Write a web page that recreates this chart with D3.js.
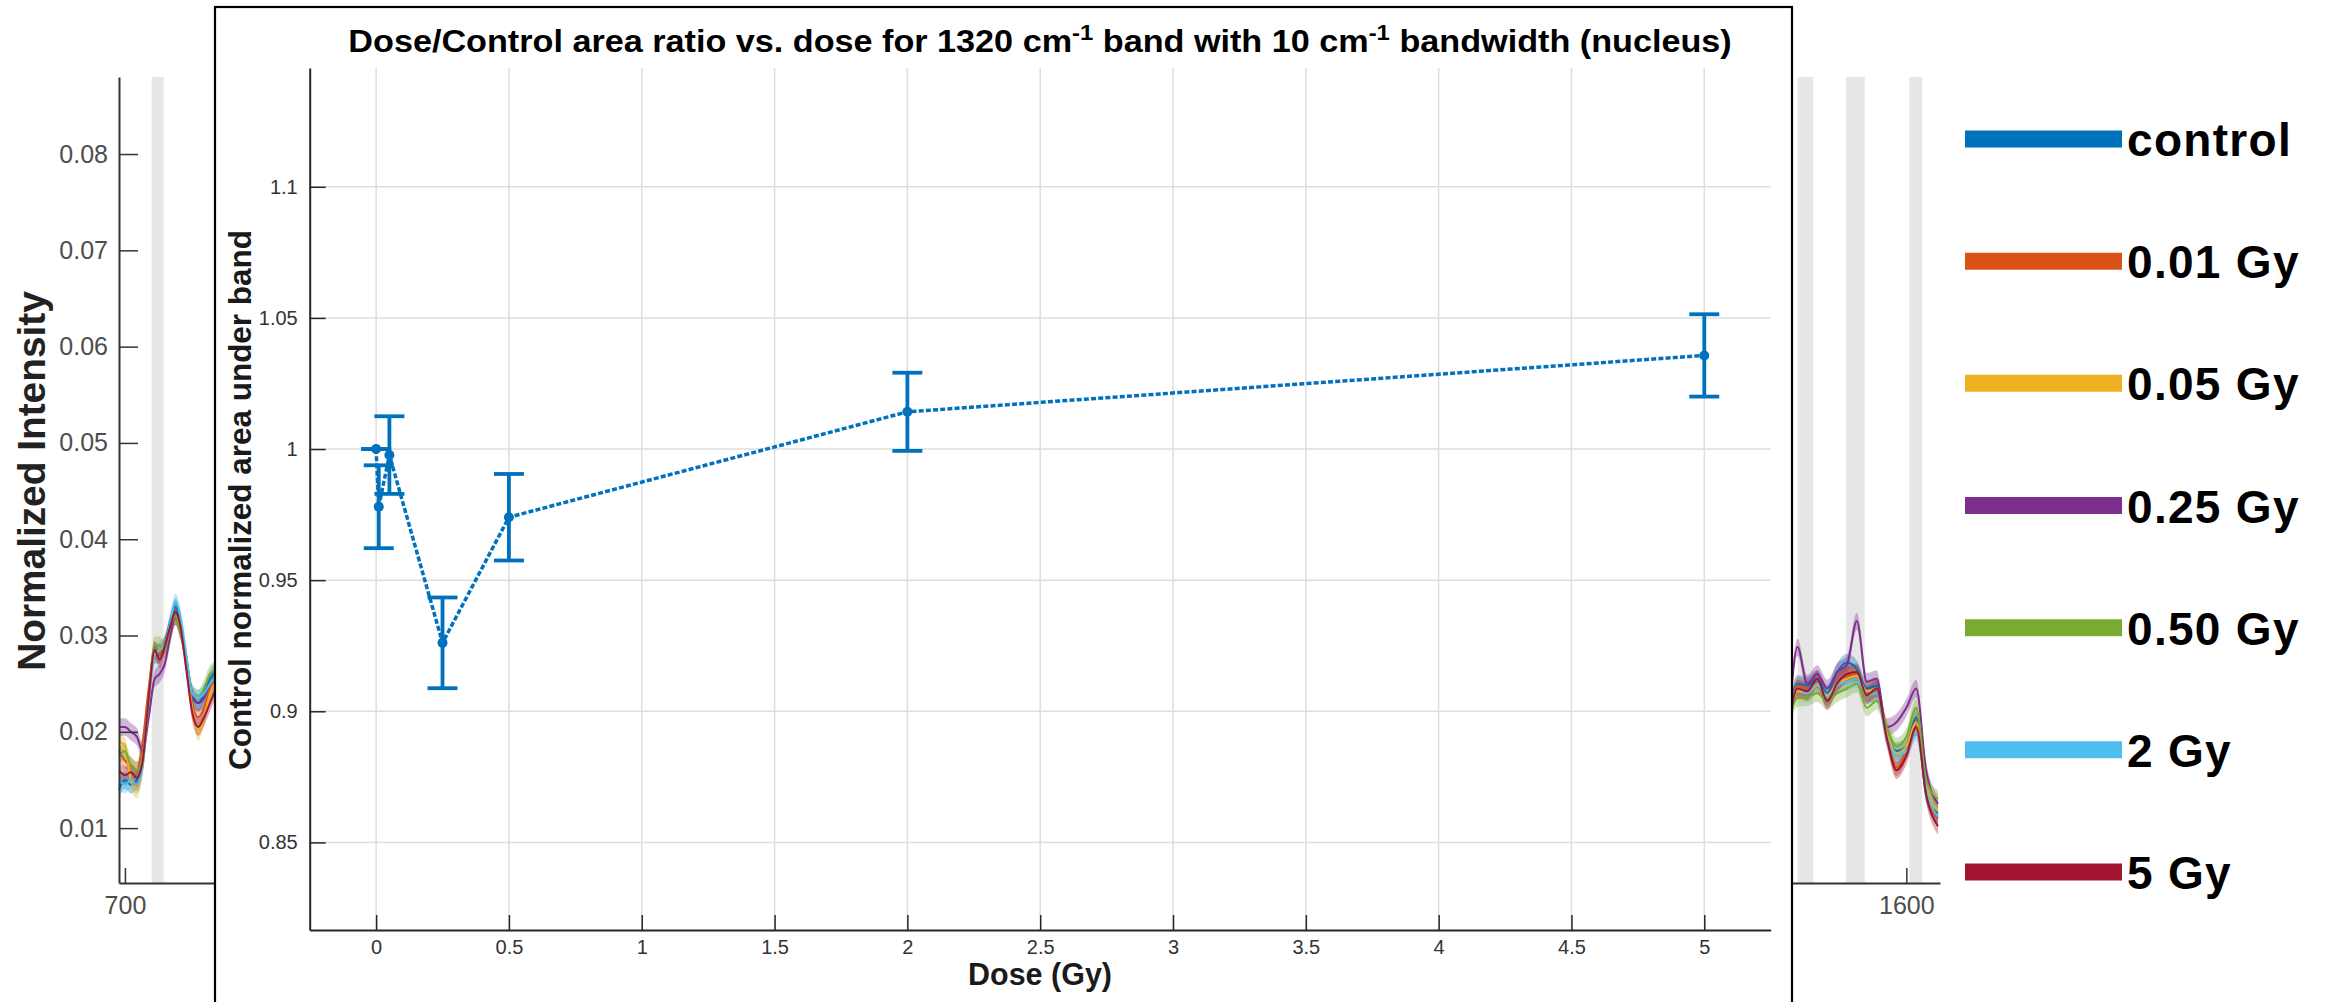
<!DOCTYPE html>
<html>
<head>
<meta charset="utf-8">
<script src="https://cdn.jsdelivr.net/npm/d3@7"></script>
<style>
  html, body { margin: 0; padding: 0; background: #fff; }
  svg { display: block; }
  text { font-family: "Liberation Sans", Arial, Helvetica, sans-serif; }
</style>
</head>
<body>
<svg id="fig" width="2329" height="1002"></svg>
<script>
// ---- dose-response data (ratio of band area to control, 1320 cm-1 band) ----
const doses      = [0, 0.01, 0.05, 0.25, 0.5, 2, 5];
const areaRatio  = [1.0, 0.978, 0.9977, 0.9261, 0.9740, 1.0142, 1.0357];
const ratioError = [0.0, 0.0158, 0.0148, 0.0173, 0.0165, 0.0149, 0.0157];
const doseTicks  = [0, 0.5, 1, 1.5, 2, 2.5, 3, 3.5, 4, 4.5, 5];
const ratioTicks = [0.85, 0.9, 0.95, 1, 1.05, 1.1];

// ---- background spectra (mean normalized intensity per group) ----
const groupNames  = ["control", "0.01 Gy", "0.05 Gy", "0.25 Gy", "0.50 Gy", "2 Gy", "5 Gy"];
const groupColors = ["#0072BD", "#D95319", "#EDB120", "#7E2F8E", "#77AC30", "#4DBEEE", "#A2142F"];

const waveLeft = [697, 700, 703, 706, 709, 712, 715, 717.5, 720, 723, 725.5, 728, 731, 734, 737, 740, 743, 747];
const specLeft = [
  [0.0140, 0.0150, 0.0145, 0.0150, 0.0170, 0.0235, 0.0280, 0.0280, 0.0290, 0.0315, 0.0330, 0.0315, 0.0270, 0.0235, 0.0230, 0.0240, 0.0255, 0.0265],
  [0.0180, 0.0170, 0.0165, 0.0160, 0.0190, 0.0245, 0.0285, 0.0280, 0.0290, 0.0310, 0.0320, 0.0305, 0.0275, 0.0230, 0.0215, 0.0225, 0.0245, 0.0260],
  [0.0190, 0.0185, 0.0150, 0.0140, 0.0165, 0.0230, 0.0280, 0.0285, 0.0290, 0.0305, 0.0320, 0.0310, 0.0270, 0.0225, 0.0200, 0.0215, 0.0240, 0.0255],
  [0.0205, 0.0205, 0.0200, 0.0195, 0.0180, 0.0215, 0.0255, 0.0260, 0.0270, 0.0300, 0.0320, 0.0305, 0.0275, 0.0240, 0.0230, 0.0235, 0.0250, 0.0260],
  [0.0175, 0.0180, 0.0165, 0.0160, 0.0175, 0.0235, 0.0290, 0.0290, 0.0285, 0.0310, 0.0320, 0.0305, 0.0275, 0.0240, 0.0235, 0.0245, 0.0260, 0.0265],
  [0.0150, 0.0145, 0.0150, 0.0145, 0.0165, 0.0230, 0.0280, 0.0285, 0.0290, 0.0315, 0.0335, 0.0320, 0.0280, 0.0240, 0.0235, 0.0240, 0.0250, 0.0260],
  [0.0160, 0.0155, 0.0158, 0.0152, 0.0170, 0.0235, 0.0285, 0.0275, 0.0288, 0.0310, 0.0325, 0.0310, 0.0265, 0.0220, 0.0205, 0.0215, 0.0230, 0.0250]
];

const waveRight = [1541, 1545, 1550, 1555, 1560, 1565, 1570, 1575, 1580, 1585, 1590, 1595, 1600, 1605, 1610, 1616];
const specRight = [
  [0.0225, 0.0250, 0.0248, 0.0255, 0.0240, 0.0262, 0.0272, 0.0265, 0.0245, 0.0248, 0.0200, 0.0180, 0.0185, 0.0215, 0.0135, 0.0115],
  [0.0220, 0.0248, 0.0245, 0.0250, 0.0235, 0.0252, 0.0258, 0.0260, 0.0240, 0.0240, 0.0195, 0.0163, 0.0180, 0.0210, 0.0140, 0.0110],
  [0.0218, 0.0242, 0.0240, 0.0248, 0.0238, 0.0250, 0.0255, 0.0258, 0.0242, 0.0245, 0.0200, 0.0178, 0.0185, 0.0210, 0.0145, 0.0118],
  [0.0220, 0.0288, 0.0250, 0.0260, 0.0245, 0.0262, 0.0270, 0.0315, 0.0252, 0.0255, 0.0205, 0.0210, 0.0225, 0.0245, 0.0160, 0.0125],
  [0.0215, 0.0235, 0.0236, 0.0240, 0.0232, 0.0240, 0.0245, 0.0250, 0.0225, 0.0232, 0.0205, 0.0185, 0.0195, 0.0225, 0.0150, 0.0130],
  [0.0222, 0.0245, 0.0240, 0.0250, 0.0236, 0.0248, 0.0252, 0.0255, 0.0238, 0.0240, 0.0195, 0.0175, 0.0180, 0.0200, 0.0140, 0.0112],
  [0.0215, 0.0245, 0.0242, 0.0255, 0.0232, 0.0250, 0.0260, 0.0262, 0.0238, 0.0245, 0.0195, 0.0160, 0.0175, 0.0205, 0.0135, 0.0102]
];
const spectrumSd = 0.0009;

const shadedBands    = [[713.5, 719.5], [1545, 1553], [1569.5, 1579], [1601.5, 1608]];
const intensityTicks = [0.01, 0.02, 0.03, 0.04, 0.05, 0.06, 0.07, 0.08];
const waveTicks      = [700, 1600];

const svg = d3.select("#fig");

// Scale text horizontally about its anchor so it spans a given length
function fitLength(sel, target) {
  const w = sel.node().getBBox().width;
  const s = target / w;
  const t = sel.attr("transform") || "";
  sel.attr("transform", t + ` scale(${s},1)`);
}

// ================= background spectra panel =================
const xSpec = d3.scaleLinear().domain([697, 1617]).range([119, 1940]);
const ySpec = d3.scaleLinear().domain([0.0043, 0.088]).range([883, 77]);
const back = svg.append("g");

back.selectAll("rect.band").data(shadedBands).join("rect")
  .attr("x", d => xSpec(d[0])).attr("width", d => xSpec(d[1]) - xSpec(d[0]))
  .attr("y", ySpec.range()[1]).attr("height", ySpec.range()[0] - ySpec.range()[1])
  .attr("fill", "#e6e6e6");

const specLine = d3.line().x(d => xSpec(d[0])).y(d => ySpec(d[1])).curve(d3.curveMonotoneX);
const specArea = d3.area().x(d => xSpec(d[0]))
  .y0(d => ySpec(d[1] - spectrumSd)).y1(d => ySpec(d[1] + spectrumSd)).curve(d3.curveMonotoneX);

[[waveLeft, specLeft], [waveRight, specRight]].forEach(([waves, groups]) => {
  groups.forEach((vals, gi) => {
    const pts = waves.map((w, i) => [w, vals[i]]);
    back.append("path").attr("d", specArea(pts))
      .attr("fill", groupColors[gi]).attr("fill-opacity", 0.35);
  });
  groups.forEach((vals, gi) => {
    const pts = waves.map((w, i) => [w, vals[i]]);
    back.append("path").attr("d", specLine(pts))
      .attr("fill", "none").attr("stroke", groupColors[gi]).attr("stroke-width", 2);
  });
});

// axes of the spectra panel
const specAxisColor = "#333";
const yAxisSpec = d3.axisLeft(ySpec).tickValues(intensityTicks).tickSizeInner(-19).tickSizeOuter(0)
  .tickFormat(d3.format(".2f")).tickPadding(11);
const gys = back.append("g").attr("transform", `translate(${xSpec.range()[0]},0)`).call(yAxisSpec);
gys.select(".domain").attr("stroke", specAxisColor).attr("stroke-width", 2);
gys.selectAll(".tick line").attr("stroke", specAxisColor).attr("stroke-width", 1.5);
gys.selectAll(".tick text").attr("fill", "#4d4d4d").style("font-size", "25px");

const xAxisSpec = d3.axisBottom(xSpec).tickValues(waveTicks).tickSizeInner(-15).tickSizeOuter(0)
  .tickFormat(d3.format("d")).tickPadding(13);
const gxs = back.append("g").attr("transform", `translate(0,${ySpec.range()[0]})`).call(xAxisSpec);
gxs.select(".domain").attr("stroke", specAxisColor).attr("stroke-width", 2);
gxs.selectAll(".tick line").attr("stroke", specAxisColor).attr("stroke-width", 1.5);
gxs.selectAll(".tick text").attr("fill", "#4d4d4d").style("font-size", "25px");

const specLabel = back.append("text")
  .attr("transform", "translate(45,481) rotate(-90)")
  .attr("text-anchor", "middle").attr("font-weight", "bold").style("font-size", "39px")
  .attr("fill", "#222").text("Normalized Intensity");
fitLength(specLabel, 380);

// legend
const legY = d3.scalePoint().domain(groupNames).range([139, 872]);
const leg = back.append("g");
leg.selectAll("line").data(groupNames).join("line")
  .attr("x1", 1965).attr("x2", 2122)
  .attr("y1", d => legY(d)).attr("y2", d => legY(d))
  .attr("stroke", (d, i) => groupColors[i]).attr("stroke-width", 17);
leg.selectAll("text").data(groupNames).join("text")
  .attr("x", 2127).attr("y", d => legY(d) + 17)
  .attr("font-weight", "bold").style("font-size", "46px").attr("fill", "#000")
  .style("letter-spacing", "1.3px")
  .text(d => d);

// ================= inset: area ratio vs dose =================
svg.append("rect").attr("x", 215).attr("y", 7).attr("width", 1577).attr("height", 1010)
  .attr("fill", "#fff").attr("stroke", "#000").attr("stroke-width", 2.2);

const x = d3.scaleLinear().domain([-0.25, 5.25]).range([309.7, 1770.7]);
const y = d3.scaleLinear().domain([0.8166, 1.1453]).range([930, 68]);
const inset = svg.append("g");

// grid
inset.append("g").selectAll("line").data(doseTicks).join("line")
  .attr("x1", d => x(d)).attr("x2", d => x(d)).attr("y1", y.range()[0]).attr("y2", y.range()[1])
  .attr("stroke", "#dedede").attr("stroke-width", 1.5);
inset.append("g").selectAll("line").data(ratioTicks).join("line")
  .attr("x1", x.range()[0]).attr("x2", x.range()[1]).attr("y1", d => y(d)).attr("y2", d => y(d))
  .attr("stroke", "#dedede").attr("stroke-width", 1.5);

const axisColor = "#262626";
const gx = inset.append("g").attr("transform", `translate(0,${y.range()[0]})`)
  .call(d3.axisBottom(x).tickValues(doseTicks).tickSizeInner(-15).tickSizeOuter(0)
    .tickFormat(d => String(d)).tickPadding(10));
gx.select(".domain").attr("stroke", axisColor).attr("stroke-width", 2);
gx.selectAll(".tick line").attr("stroke", axisColor).attr("stroke-width", 1.5);
gx.selectAll(".tick text").attr("fill", "#333").style("font-size", "20px");

const gy = inset.append("g").attr("transform", `translate(${x.range()[0]},0)`)
  .call(d3.axisLeft(y).tickValues(ratioTicks).tickSizeInner(-16).tickSizeOuter(0)
    .tickFormat(d => String(d)).tickPadding(12));
gy.select(".domain").attr("stroke", axisColor).attr("stroke-width", 2);
gy.selectAll(".tick line").attr("stroke", axisColor).attr("stroke-width", 1.5);
gy.selectAll(".tick text").attr("fill", "#333").style("font-size", "20px");

// title with superscripts
const title = inset.append("text").attr("transform", "translate(1040,52)")
  .attr("text-anchor", "middle").attr("font-weight", "bold").style("font-size", "31.5px").attr("fill", "#000");
title.append("tspan").text("Dose/Control area ratio vs. dose for 1320 cm");
title.append("tspan").attr("dy", -12).style("font-size", "22px").text("-1");
title.append("tspan").attr("dy", 12).text(" band with 10 cm");
title.append("tspan").attr("dy", -12).style("font-size", "22px").text("-1");
title.append("tspan").attr("dy", 12).text(" bandwidth (nucleus)");
fitLength(title, 1384);

const xl = inset.append("text").attr("transform", "translate(1040,985)")
  .attr("text-anchor", "middle").attr("font-weight", "bold").style("font-size", "31px")
  .attr("fill", "#1a1a1a").text("Dose (Gy)");
fitLength(xl, 144);

const yl = inset.append("text").attr("transform", "translate(251,500) rotate(-90)")
  .attr("text-anchor", "middle").attr("font-weight", "bold").style("font-size", "31.5px")
  .attr("fill", "#1a1a1a").text("Control normalized area under band");
fitLength(yl, 540);

// data: dotted connecting line, error bars, point markers
const blue = "#0072BD";
const pts = doses.map((d, i) => ({ d, v: areaRatio[i], e: ratioError[i] }));
inset.append("path")
  .attr("d", d3.line().x(p => x(p.d)).y(p => y(p.v))(pts))
  .attr("fill", "none").attr("stroke", blue).attr("stroke-width", 3.5)
  .attr("stroke-dasharray", "5,2.2");

const eb = inset.append("g").attr("stroke", blue).attr("stroke-width", 3.8).attr("fill", "none");
pts.forEach(p => {
  const cx = x(p.d), capHalf = 15;
  eb.append("line").attr("x1", cx).attr("x2", cx).attr("y1", y(p.v - p.e)).attr("y2", y(p.v + p.e));
  eb.append("line").attr("x1", cx - capHalf).attr("x2", cx + capHalf).attr("y1", y(p.v + p.e)).attr("y2", y(p.v + p.e));
  eb.append("line").attr("x1", cx - capHalf).attr("x2", cx + capHalf).attr("y1", y(p.v - p.e)).attr("y2", y(p.v - p.e));
});
inset.append("g").selectAll("circle").data(pts).join("circle")
  .attr("cx", p => x(p.d)).attr("cy", p => y(p.v)).attr("r", 5).attr("fill", blue);
</script>
</body>
</html>
